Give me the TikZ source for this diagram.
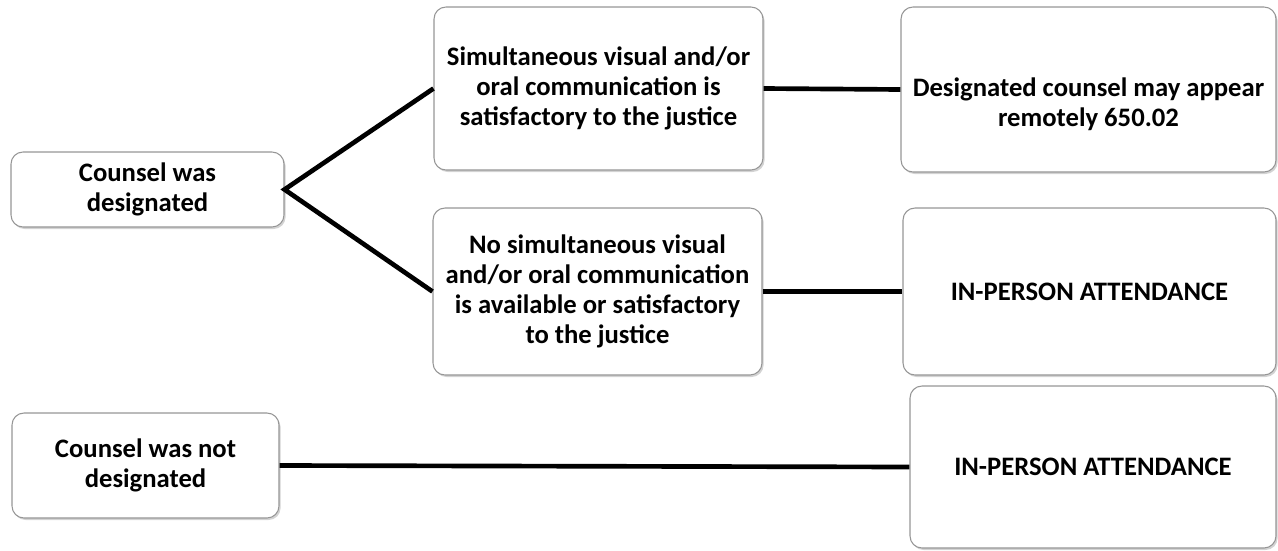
\documentclass[tikz,border=0pt]{standalone}
\usepackage{fontspec}
\setmainfont{Carlito}
\usepackage{xcolor}
\usetikzlibrary{shadows}

\definecolor{boxline}{RGB}{150,150,150}

\tikzset{
  stepbox/.style={draw=boxline, line width=0.8pt, fill=white, rounded corners=9pt,
    align=center, font=\fontsize{20}{22.5}\selectfont\bfseries,
    drop shadow={shadow xshift=1.2pt, shadow yshift=-1.5pt, opacity=0.35, fill=gray}},
  link/.style={line width=3.5pt, black}
}

\begin{document}
\begin{tikzpicture}[x=0.75pt,y=-0.75pt]

\useasboundingbox (0,0) rectangle (1278,550);

% Draw boxes
\node[stepbox, minimum width=273*0.75pt, minimum height=75*0.75pt] (designated) at (147.5,189.5)
  {Counsel was\\designated};
\node[stepbox, minimum width=329*0.75pt, minimum height=163*0.75pt] (satisfactory) at (598.5,88.5)
  {Simultaneous visual and/or\\oral communication is\\satisfactory to the justice};
\node[stepbox, minimum width=375*0.75pt, minimum height=165*0.75pt] (remote) at (1088.5,89.5)
  {\rule{0pt}{36pt}Designated counsel may appear\\remotely 650.02};
\node[stepbox, minimum width=329*0.75pt, minimum height=167*0.75pt] (unavailable) at (597.5,291.5)
  {No simultaneous visual\\and/or oral communication\\is available or satisfactory\\to the justice};
\node[stepbox, minimum width=373*0.75pt, minimum height=167*0.75pt] (inperson1) at (1089.5,291.5)
  {IN-PERSON ATTENDANCE};
\node[stepbox, minimum width=267*0.75pt, minimum height=105*0.75pt] (notdesignated) at (145.5,465.5)
  {Counsel was not\\designated};
\node[stepbox, minimum width=366*0.75pt, minimum height=162*0.75pt] (inperson2) at (1093,467)
  {IN-PERSON ATTENDANCE};

% Draw connections
\draw[link] (satisfactory.west) -- (designated.east) -- (unavailable.west);
\draw[link] (satisfactory.east) -- (remote.west);
\draw[link] (unavailable.east) -- (inperson1.west);
\draw[link] (notdesignated.east) -- (inperson2.west);

\end{tikzpicture}
\end{document}
